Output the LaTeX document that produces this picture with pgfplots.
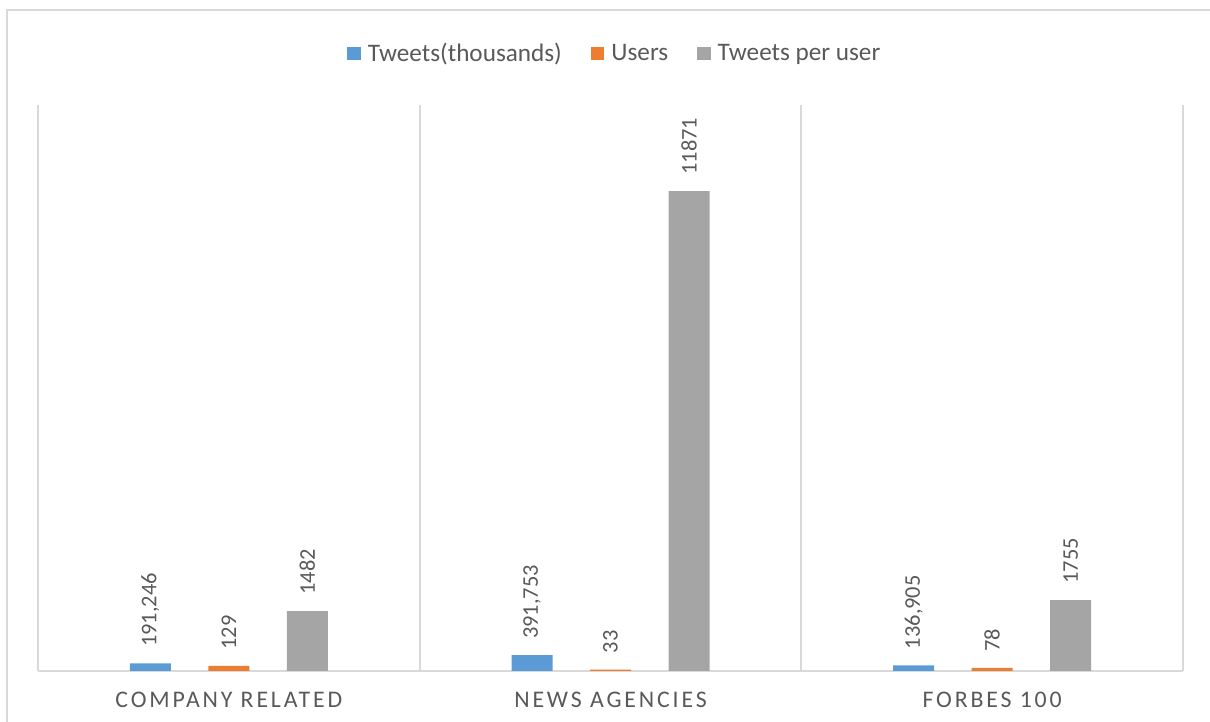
\documentclass[border=0pt]{standalone}
\usepackage{pgfplots}
\pgfplotsset{compat=1.18}
\usepackage{pgfplotstable}
\usepackage{fontspec}
\setmainfont{Carlito}
\newfontfamily\spaced[LetterSpace=12]{Carlito}
\definecolor{cblue}{HTML}{5B9BD5}
\definecolor{corange}{HTML}{ED7D31}
\definecolor{cgray}{HTML}{A5A5A5}
\definecolor{gridc}{HTML}{D9D9D9}
\definecolor{labc}{HTML}{595959}

\pgfplotstableread{
x y label
0 191.246 191,246
1 391.753 391,753
2 136.905 136,905
}\tweets
\pgfplotstableread{
x y label
0 129 129
1 33 33
2 78 78
}\users
\pgfplotstableread{
x y label
0 1482 1482
1 11871 11871
2 1755 1755
}\peruser

\begin{document}
\begin{tikzpicture}
\useasboundingbox (0,0) rectangle (605pt,361pt);
\draw[gridc, line width=0.9pt] (3.5pt,-5pt) -- (3.5pt,356pt) -- (615pt,356pt);
\begin{axis}[
  at={(19pt,25.5pt)}, anchor=south west,
  scale only axis, width=572.5pt, height=283pt,
  ymin=0, ymax=14000, xmin=-0.5, xmax=2.5,
  axis y line=none, axis x line*=bottom,
  x axis line style={color=gridc, line width=1pt},
  xtick={0,1,2},
  xticklabels={COMPANY RELATED, NEWS AGENCIES, FORBES 100},
  major tick length=0pt,
  extra x ticks={-0.5,0.5,1.5,2.5}, extra x tick labels={},
  extra x tick style={grid=major, major grid style={color=gridc, line width=1pt}, major tick length=0pt},
  xticklabel style={font=\spaced\fontsize{11.9}{13}\selectfont, text=labc, anchor=base, yshift=-18.5pt},
  ybar, bar width=20.5pt,
  nodes near coords, point meta=explicit symbolic,
  every node near coord/.append style={rotate=90, anchor=west, inner xsep=8pt, inner ysep=0pt, font=\fontsize{11.2}{13}\selectfont, text=labc},
  legend style={at={(0.506,1.091)}, anchor=center, draw=none, fill=none,
    legend columns=3, font=\fontsize{12.6}{14}\selectfont, text=labc,
    nodes={inner xsep=3.5pt},
    /tikz/every even column/.append style={column sep=11pt}},
  legend image code/.code={\draw[#1,draw=none] (0pt,-3.3pt) rectangle (6.75pt,3.45pt);},
]
\addplot[fill=cblue, draw=none, bar shift=-39.25pt] table[x=x, y=y, meta=label] {\tweets};
\addlegendentry{Tweets(thousands)}
\addplot[fill=corange, draw=none, bar shift=0pt] table[x=x, y=y, meta=label] {\users};
\addlegendentry{Users}
\addplot[fill=cgray, draw=none, bar shift=39.25pt] table[x=x, y=y, meta=label] {\peruser};
\addlegendentry{Tweets per user}
\end{axis}
\end{tikzpicture}
\end{document}
